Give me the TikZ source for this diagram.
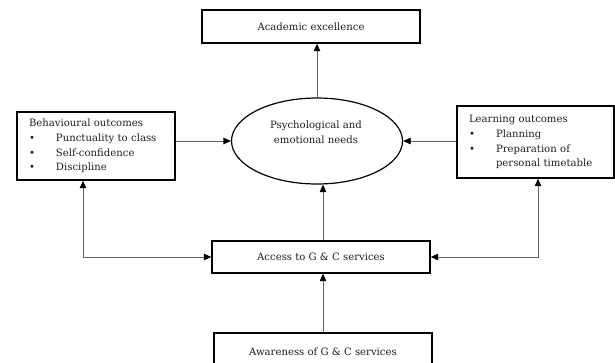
\documentclass[tikz,border=0pt]{standalone}
\usepackage{fontspec}
\setmainfont{DejaVu Serif}
\usetikzlibrary{arrows.meta,shapes.geometric}
\begin{document}
\begin{tikzpicture}[x=1pt,y=-1pt,
  txt/.style={font=\fontsize{10.1}{14.8}\selectfont, text=black!88},
  box/.style={draw=black, line width=1.4pt, inner sep=0pt, txt},
  conn/.style={draw=black!62, line width=0.7pt, -{Triangle[length=7.5pt,width=6.5pt,color=black]}},
  conn2/.style={draw=black!62, line width=0.7pt, {Triangle[length=7.5pt,width=6.5pt,color=black]}-{Triangle[length=7.5pt,width=6.5pt,color=black]}}
]
\clip (0,0) rectangle (615,362);
\useasboundingbox (0,0) rectangle (615,362);
\fill[white] (0,0) rectangle (615,362);

\node[box, minimum width=218pt, minimum height=33pt] (acad) at (311,26.5) {Academic excellence};

\node[draw=black, line width=1.2pt, ellipse, minimum width=171pt, minimum height=86pt, inner sep=0pt] (psy) at (317,141) {};
\node[txt, align=center, inner sep=0pt] (psytext) at (316,132) {Psychological and\\emotional needs};

\node[box, minimum width=158pt, minimum height=68pt, text width=134pt, align=left] (beh) at (96,146)
  {Behavioural outcomes\\
   \makebox[27pt][l]{\textbullet}Punctuality to class\\
   \makebox[27pt][l]{\textbullet}Self-confidence\\
   \makebox[27pt][l]{\textbullet}Discipline};

\node[box, minimum width=157pt, minimum height=72pt, text width=133pt, align=left] (lrn) at (535.5,142)
  {Learning outcomes\\
   \makebox[27pt][l]{\textbullet}Planning\\
   \makebox[27pt][l]{\textbullet}Preparation of\\
   \hspace*{27pt}personal timetable};

\node[box, minimum width=218pt, minimum height=32pt] (acc) at (321,257) {Access to G \& C services};

\node[box, minimum width=218pt, minimum height=38pt] (aw) at (323,352) {Awareness of G \& C services};

\draw[conn] (psy.north) -- (psy.north |- acad.south);
\draw[conn] (beh.east |- psy.west) -- (psy.west);
\draw[conn] (lrn.west |- psy.east) -- (psy.east);
\draw[conn] (aw.north |- acc.north) -- (aw.north |- psy.south);
\draw[conn] (aw.north) -- (aw.north |- acc.south);

\coordinate (lc) at (83,257);
\coordinate (rc) at (538,257);
\draw[conn2] (acc.west) -- (lc) -- (lc |- beh.south);
\draw[conn2] (acc.east) -- (rc) -- (rc |- lrn.south);
\end{tikzpicture}
\end{document}
